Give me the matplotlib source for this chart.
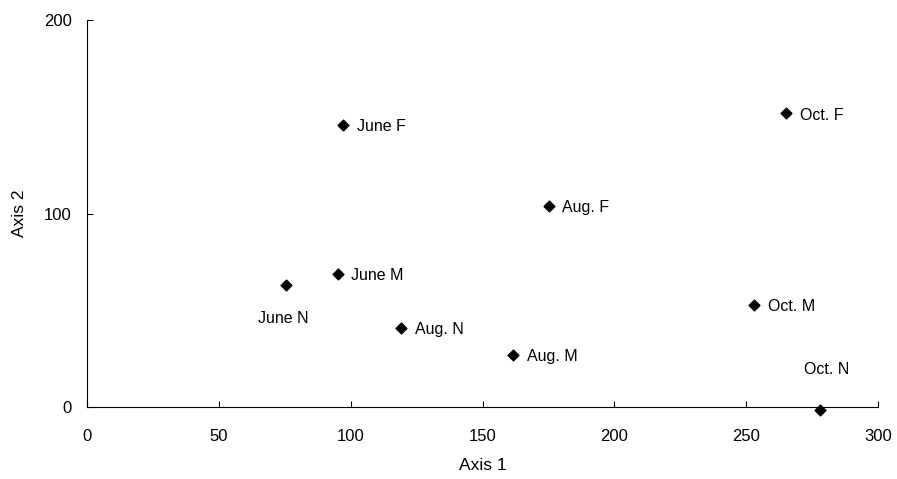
import matplotlib.pyplot as plt

plt.rcParams['font.family'] = ['Liberation Sans', 'DejaVu Sans']

# Ordination scores
labels = ['June F', 'June M', 'June N', 'Aug. F', 'Aug. M', 'Aug. N',
          'Oct. F', 'Oct. M', 'Oct. N']
axis1 = [97, 95, 75.5, 175, 161.5, 119, 265, 253, 278]
axis2 = [146, 69, 63, 104, 27, 41, 152, 53, -1.5]

x_ticks = [0, 50, 100, 150, 200, 250, 300]
y_ticks = [0, 100, 200]

# label placement (offset points, alignment)
label_pos = {'June N': ((-2, -24), 'center'),
             'Oct. N': ((5, 29), 'center')}

fig, ax = plt.subplots(figsize=(8.97, 4.79), dpi=100)
fig.subplots_adjust(left=0.097, right=0.979, bottom=0.150, top=0.958)

ax.scatter(axis1, axis2, marker='D', s=30, color='black', zorder=3, clip_on=False)
for lab, x, y in zip(labels, axis1, axis2):
    off, ha = label_pos.get(lab, ((10, -1.5), 'left'))
    ax.annotate(lab, (x, y), xytext=off, textcoords='offset points',
                ha=ha, va='center', fontsize=11.5, annotation_clip=False)

ax.set_xlim(0, 300)
ax.set_ylim(0, 200)
ax.set_xticks(x_ticks)
ax.set_yticks(y_ticks)
ax.spines['top'].set_visible(False)
ax.spines['right'].set_visible(False)
ax.tick_params(direction='in', length=4, width=0.8, labelsize=12)
ax.tick_params(axis='x', pad=16)
ax.tick_params(axis='y', pad=11)
ax.set_xlabel('Axis 1', fontsize=12.5, labelpad=10)
ax.set_ylabel('Axis 2', fontsize=12.5, labelpad=12)

fig.savefig('out.png')
